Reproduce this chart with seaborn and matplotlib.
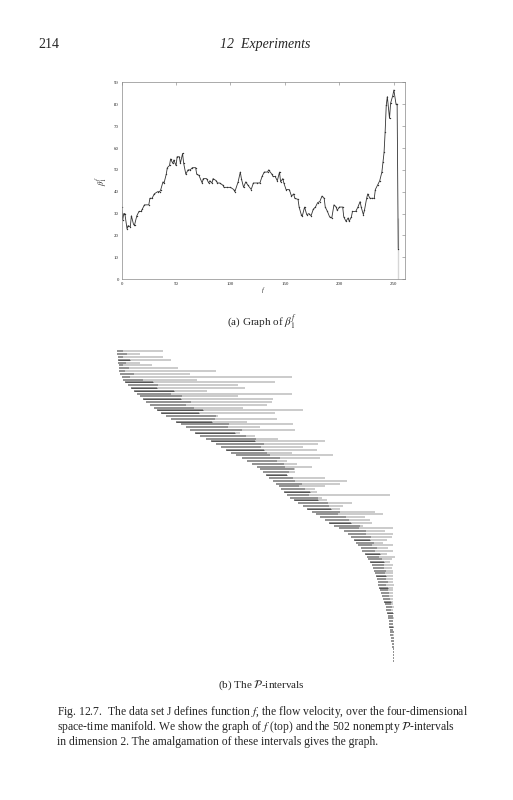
import matplotlib
matplotlib.use("Agg")
from matplotlib import pyplot as plt
import pandas as pd
import seaborn as sns

# graph of f: sample positions and values
f_x = [0, 1, 2, 3, 5, 6, 8, 9, 11, 12, 14, 16, 18, 19, 21, 25, 26, 28, 30, 33,
       35, 36, 38, 39, 41, 42, 44, 45, 47, 48, 50, 51, 53, 54, 56, 57, 59, 61, 63, 65,
       68, 69, 71, 74, 75, 78, 80, 81, 83, 84, 87, 88, 90, 93, 94, 97, 100, 103, 104, 107,
       109, 110, 112, 114, 116, 119, 121, 124, 127, 129, 131, 134, 135, 138, 139, 141, 143, 145, 146, 148,
       149, 151, 154, 156, 158, 159, 162, 163, 165, 166, 168, 170, 172, 174, 176, 178, 180, 182, 184, 186,
       187, 189, 191, 193, 195, 197, 198, 200, 203, 204, 206, 208, 209, 211, 212, 215, 217, 219, 220, 222,
       223, 225, 226, 228, 230, 232, 233, 235, 237, 239, 240, 241, 242, 243, 244, 246, 247, 249, 250, 252,
       253, 254, 254]
f_val = [33, 27, 30, 30, 23, 24.5, 24, 29, 25, 25, 29, 31, 31, 32, 34, 34, 37, 37, 39, 40,
         40, 41, 44.5, 44, 48, 51, 52, 55, 53, 54.5, 52, 56, 56, 53, 57.5, 53, 48, 50, 50, 51,
         51, 48, 47.5, 44, 46, 46, 44, 45, 44, 46, 45, 44, 44, 43, 42, 42, 42, 41, 40, 44.5,
         49, 46, 42, 44.5, 43, 41, 44, 44, 44, 47, 49, 49, 50, 48, 47, 47, 45, 49, 44.5, 46,
         44, 41, 41, 38, 39, 37, 36.5, 33, 29.5, 29, 33, 29.5, 30, 29, 32, 33, 35, 35.5, 38, 37,
         33, 31, 28.5, 28, 34, 33, 31.5, 33, 33, 28.5, 26.5, 28, 26.5, 28.5, 31, 31, 33, 35.5, 33, 29.5,
         31.5, 37, 39, 37, 37, 37, 41, 43, 45, 49, 53.5, 58, 67.5, 79.5, 83.5, 73.5, 80.5, 84, 86.5, 80,
         80, 28, 0]

# P-intervals, sorted by start (one row per drawn interval)
iv_start = [0, 0, 1, 1, 1, 2, 2, 2, 3, 5, 6, 8, 11, 14, 17, 20, 23, 26, 29, 33,
            37, 40, 44, 49, 54, 59, 64, 69, 73, 78, 83, 89, 94, 99, 104, 109, 114, 119, 125, 130,
            135, 140, 143, 146, 149, 152, 156, 159, 162, 164, 167, 170, 173, 177, 181, 186, 190, 195, 199, 203,
            208, 212, 217, 222, 227, 231, 234, 237, 239, 241, 244, 245, 248, 250, 251, 253, 255, 256, 257, 258,
            259, 260, 261, 261, 262, 263, 264, 265, 266, 267, 268, 269, 269, 270, 271, 271, 272, 272, 272, 273,
            273, 273, 274, 274, 275, 275, 276, 276, 276, 276, 276]
iv_end = [46, 23, 46, 54, 23, 35, 61, 99, 73, 175, 80, 158, 121, 128, 90, 175, 121, 156, 155, 150,
          126, 186, 158, 101, 160, 130, 176, 143, 178, 123, 138, 161, 208, 201, 186, 200, 175, 216, 203, 170,
          180, 195, 178, 178, 170, 208, 230, 223, 208, 198, 200, 273, 205, 210, 235, 226, 223, 258, 266, 248,
          253, 255, 246, 276, 268, 276, 275, 270, 266, 276, 271, 276, 270, 278, 275, 273, 276, 275, 276, 276,
          276, 276, 276, 277, 276, 276, 276, 276, 276, 276, 276, 277, 276, 276, 276, 277, 276, 276, 277, 276,
          277, 277, 277, 277, 277, 277, 277, 277, 277, 277, 277]
iv_core = [6, 10, 5, 12, 8, 4, 10, 6, 14, 8,
           20, 28, 30, 26, 40, 34, 42, 38, 45, 36,
           40, 46, 38, 50, 44, 36, 48, 42, 52, 40,
           46, 50, 44, 48, 40, 38, 36, 34, 38, 30,
           32, 28, 34, 26, 30, 24, 22, 26, 20, 24,
           26, 22, 28, 24, 30, 26, 24, 28, 22, 26,
           24, 22, 26, 20, 22, 18, 20, 16, 18, 14,
           16, 13, 15, 12, 14, 14, 12, 11, 12, 10,
           10, 9, 10, 8, 9, 8, 8, 7, 7, 7,
           6, 6, 5, 6, 5, 5, 4, 4, 4, 4,
           4, 3, 3, 3, 3, 2, 2, 2, 2, 1, 1]
iv_dark = [3, 11, 13, 14, 17, 21, 22, 25, 29, 32, 35, 44, 50, 53, 56, 61, 67, 72, 75, 80,
           84, 89, 93, 98]

sns.set_style("white")
plt.rcParams['font.family'] = ['Liberation Serif', 'DejaVu Serif']
plt.rcParams['mathtext.fontset'] = 'stix'

fig = plt.figure(figsize=(5.13, 8.0), dpi=100)

# top panel: graph of f
ax1 = fig.add_axes([0.237, 0.651, 0.552, 0.246])
df = pd.DataFrame({"f": f_x, "beta": f_val})
sns.lineplot(data=df, x="f", y="beta", ax=ax1, color="#333333", linewidth=0.6,
             marker=".", markersize=2, markeredgewidth=0, sort=False)
ax1.set_xlim(0, 260)
ax1.set_ylim(0, 90)
ax1.set_xticks(range(0, 251, 50))
ax1.set_yticks(range(0, 91, 10))
ax1.tick_params(direction="in", length=2.5, width=0.4, labelsize=3.5,
                top=True, right=True, color="#777777", pad=2)
for s in ax1.spines.values():
    s.set_linewidth(0.5)
    s.set_color("#888888")
ax1.set_xlabel("f", fontsize=4.5, style="italic", labelpad=1)
ax1.set_ylabel(r"$\beta_1^f$", fontsize=6, labelpad=3)

# bottom panel: the P-intervals
ax2 = fig.add_axes([0.228, 0.1725, 0.552, 0.39])
rows = list(range(len(iv_start)))
ax2.hlines(rows, iv_start, iv_end, color="#bdbdbd", linewidth=1.1)
core_end = [min(s + c, e) for s, c, e in zip(iv_start, iv_core, iv_end)]
ax2.hlines(rows, iv_start, core_end, color="#8e8e8e", linewidth=1.3)
ax2.hlines(iv_dark, [iv_start[i] for i in iv_dark], [core_end[i] for i in iv_dark],
           color="#4a4a4a", linewidth=0.6)
ax2.set_xlim(0, 283)
ax2.set_ylim(len(rows) - 0.5, -0.5)
ax2.axis("off")

# page text
fig.text(0.074, 0.944, "214", fontsize=10, va="center")
fig.text(0.516, 0.944, "12  Experiments", fontsize=10, style="italic", va="center", ha="center")
fig.text(0.51, 0.5975, r"(a) Graph of $\beta_1^f$", fontsize=8, ha="center", va="center")
fig.text(0.51, 0.144, r"(b) The $\mathcal{P}$-intervals", fontsize=8, ha="center", va="center")
cap = [r"Fig. 12.7.  The data set J defines function $f$, the flow velocity, over the four-dimensional",
       r"space-time manifold. We show the graph of $f$ (top) and the 502 nonempty $\mathcal{P}$-intervals",
       r"in dimension 2. The amalgamation of these intervals gives the graph."]
for k, line in enumerate(cap):
    fig.text(0.111, 0.110 - k * 0.0188, line, fontsize=8.35, va="center")

fig.savefig("out.png", dpi=100)
